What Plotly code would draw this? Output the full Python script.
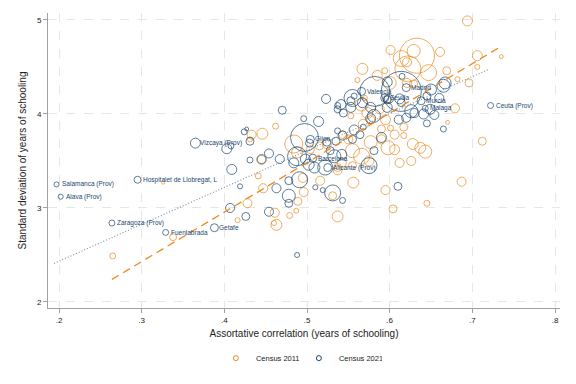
import numpy as np
import plotly.graph_objects as go

# Census 2011 (orange): assortative correlation, sd of schooling, population (10k)
x_2011 = [0.694, 0.633, 0.629, 0.601, 0.622, 0.647, 0.661, 0.567, 0.669, 0.682, 0.561,
          0.696, 0.706, 0.706, 0.735, 0.679, 0.670, 0.712, 0.687, 0.645, 0.604, 0.595,
          0.556, 0.537, 0.531, 0.516, 0.496, 0.489, 0.487, 0.479, 0.463, 0.460, 0.461,
          0.447, 0.441, 0.445, 0.446, 0.433, 0.431, 0.462, 0.428, 0.416, 0.338, 0.326,
          0.265, 0.484, 0.488, 0.495, 0.585, 0.594, 0.570, 0.566, 0.573, 0.568, 0.577,
          0.595, 0.590, 0.601, 0.606, 0.617, 0.617, 0.598, 0.606, 0.612, 0.626, 0.628,
          0.637, 0.643, 0.577, 0.566, 0.555, 0.542, 0.537, 0.555, 0.575, 0.590, 0.621,
          0.600, 0.597, 0.588, 0.621, 0.614, 0.629, 0.550, 0.543, 0.524, 0.515, 0.504,
          0.537, 0.553]
y_2011 = [4.99, 4.62, 4.67, 4.68, 4.48, 4.44, 4.66, 4.48, 4.46, 4.37, 4.36,
          4.33, 4.62, 4.50, 4.61, 4.06, 3.91, 3.71, 3.28, 3.05, 2.99, 3.19,
          3.27, 2.91, 3.13, 3.29, 3.17, 3.07, 2.97, 2.92, 2.82, 2.84, 2.95,
          3.21, 3.34, 3.51, 3.79, 3.78, 3.73, 3.87, 3.05, 2.87, 2.69, 3.27,
          2.49, 3.68, 3.59, 3.32, 4.41, 4.46, 4.17, 4.10, 4.01, 3.89, 3.94,
          3.94, 3.84, 3.85, 3.78, 3.86, 3.77, 3.64, 3.62, 3.48, 3.50, 3.68,
          3.64, 3.60, 3.70, 3.55, 3.61, 3.48, 3.43, 3.45, 3.50, 3.73, 4.33,
          4.33, 4.16, 4.05, 4.55, 4.59, 4.32, 3.73, 3.78, 3.68, 3.66, 3.62,
          3.40, 3.98]
pop_2011 = [39, 479, 66, 32, 264, 100, 32, 47, 25, 10, 10,
            25, 39, 10, 6, 32, 6, 25, 32, 14, 25, 32,
            47, 47, 25, 32, 32, 25, 10, 14, 47, 10, 32,
            32, 14, 32, 47, 32, 10, 14, 32, 10, 19, 4,
            14, 127, 47, 32, 39, 14, 10, 66, 47, 39, 25,
            39, 25, 14, 32, 25, 14, 77, 39, 32, 32, 47,
            47, 66, 66, 100, 77, 32, 25, 25, 39, 32, 32,
            66, 25, 32, 32, 100, 25, 32, 25, 32, 25, 25,
            32, 14]

# Census 2021 (navy)
x_2021 = [0.197, 0.202, 0.264, 0.329, 0.388, 0.295, 0.365, 0.722, 0.643, 0.638,
          0.566, 0.594, 0.620, 0.504, 0.507, 0.525,
          0.614, 0.582, 0.597, 0.555, 0.541, 0.553, 0.537, 0.567, 0.577, 0.597,
          0.597, 0.614, 0.626, 0.649, 0.667, 0.645, 0.615, 0.665, 0.650, 0.660,
          0.654, 0.645, 0.665, 0.641, 0.630, 0.620, 0.611, 0.612, 0.599, 0.590,
          0.581, 0.577, 0.575, 0.581, 0.610, 0.557, 0.555, 0.564, 0.568, 0.543,
          0.537, 0.535, 0.542, 0.533, 0.528, 0.524, 0.531, 0.543, 0.519, 0.510,
          0.522, 0.509, 0.502, 0.498, 0.491, 0.484, 0.488, 0.497, 0.503, 0.514,
          0.496, 0.470, 0.523, 0.537, 0.544, 0.553, 0.557, 0.478, 0.478, 0.478,
          0.463, 0.454, 0.426, 0.407, 0.419, 0.409, 0.431, 0.445, 0.454, 0.467,
          0.403, 0.408, 0.424, 0.427, 0.431, 0.488]
y_2021 = [3.25, 3.12, 2.84, 2.74, 2.79, 3.30, 3.69, 4.09, 4.06, 4.14,
          4.24, 4.17, 4.28, 3.73, 3.53, 3.43,
          4.24, 4.24, 4.34, 4.17, 4.10, 4.07, 4.05, 4.12, 4.07, 4.15,
          4.07, 4.12, 4.03, 4.05, 4.33, 4.19, 4.40, 4.30, 4.26, 4.17,
          3.99, 3.90, 3.84, 4.00, 4.01, 3.96, 3.94, 4.16, 4.16, 3.75,
          3.98, 3.95, 3.45, 3.61, 3.23, 3.83, 3.73, 3.78, 3.86, 3.77,
          3.82, 3.71, 3.57, 3.55, 3.61, 3.70, 3.16, 3.08, 3.19, 3.22,
          3.43, 3.43, 3.46, 3.52, 3.30, 3.48, 3.55, 3.75, 3.69, 3.92,
          3.95, 4.04, 4.16, 4.09, 4.01, 4.14, 4.19, 3.13, 3.05, 3.29,
          3.21, 2.96, 2.91, 3.00, 3.23, 3.41, 3.51, 3.52, 3.58, 3.52,
          3.63, 3.66, 3.81, 3.84, 3.71, 2.50]
pop_2021 = [10, 10, 14, 14, 25, 19, 39, 14, 14, 25,
            25, 25, 25, 25, 25, 25,
            625, 352, 39, 113, 39, 39, 19, 39, 39, 25,
            39, 25, 66, 39, 56, 25, 14, 66, 47, 32,
            32, 19, 14, 39, 32, 32, 32, 39, 32, 39,
            66, 39, 100, 25, 25, 39, 25, 25, 14, 32,
            14, 25, 39, 66, 25, 25, 100, 14, 10, 10,
            88, 47, 47, 39, 100, 39, 141, 306, 25, 39,
            14, 25, 32, 14, 25, 25, 14, 66, 25, 25,
            32, 32, 25, 32, 10, 39, 14, 32, 32, 32,
            39, 14, 14, 6, 25, 10]

# point labels (2021 markers, first entries of the arrays above)
label_idx = list(range(16))
labels = ["Salamanca (Prov)", "Alava (Prov)", "Zaragoza (Prov)", "Fuenlabrada", "Getafe",
          "Hospitalet de Llobregat, L", "Vizcaya (Prov)", "Ceuta (Prov)", "Malaga", "Murcia",
          "Valencia", "Sevilla", "Madrid", "Gijon", "Barcelona", "Alicante (Prov)"]

# linear fits (endpoints)
fit_x_2011 = [0.264, 0.735]
fit_y_2011 = [2.24, 4.72]
fit_x_2021 = [0.194, 0.721]
fit_y_2021 = [2.41, 4.48]

ticks_x = [0.2, 0.3, 0.4, 0.5, 0.6, 0.7, 0.8]
ticks_x_text = [".2", ".3", ".4", ".5", ".6", ".7", ".8"]
ticks_y = [2, 3, 4, 5]

ORANGE = "#EA8A1F"
NAVY = "#1A476F"


def diam(pop):
    return 1.6 * np.sqrt(np.array(pop, dtype=float))


fig = go.Figure()

fig.add_trace(go.Scatter(
    x=x_2011, y=y_2011, mode="markers", showlegend=False,
    marker=dict(symbol="circle-open", size=diam(pop_2011), color=ORANGE,
                line=dict(width=1, color=ORANGE)),
))
fig.add_trace(go.Scatter(
    x=x_2021, y=y_2021, mode="markers", showlegend=False,
    marker=dict(symbol="circle-open", size=diam(pop_2021), color=NAVY,
                line=dict(width=1, color=NAVY)),
))

fig.add_trace(go.Scatter(x=fit_x_2011, y=fit_y_2011, mode="lines", showlegend=False,
                         line=dict(color=ORANGE, width=1.3, dash="8px,5px")))
fig.add_trace(go.Scatter(x=fit_x_2021, y=fit_y_2021, mode="lines", showlegend=False,
                         line=dict(color="#7F93AB", width=1.2, dash="1px,2px")))

# legend entries
fig.add_trace(go.Scatter(x=[None], y=[None], mode="markers", name="Census 2011",
                         marker=dict(symbol="circle-open", size=5, color=ORANGE,
                                     line=dict(width=1, color=ORANGE))))
fig.add_trace(go.Scatter(x=[None], y=[None], mode="markers", name="Census 2021",
                         marker=dict(symbol="circle-open", size=5, color=NAVY,
                                     line=dict(width=1, color=NAVY))))

for i, lab in zip(label_idx, labels):
    fig.add_annotation(x=x_2021[i], y=y_2021[i], text=lab, showarrow=False,
                       xanchor="left", yanchor="middle", xshift=3,
                       font=dict(size=6.5, color=NAVY, family="Liberation Sans, Arial"))

grid = dict(showgrid=True, gridcolor="#E6E6E6", gridwidth=1, griddash="dash",
            showline=True, linecolor="#A0A0A0", linewidth=1, ticks="outside",
            ticklen=4, tickcolor="#A0A0A0", zeroline=False, automargin=False,
            tickfont=dict(size=8, color="#222222"))

fig.update_xaxes(range=[0.1867, 0.806], tickvals=ticks_x, ticktext=ticks_x_text,
                 title=dict(text="Assortative correlation (years of schooling)",
                            font=dict(size=10, color="#222222"), standoff=6), **grid)
fig.update_yaxes(range=[1.936, 5.074], tickvals=ticks_y,
                 title=dict(text="Standard deviation of years of schooling",
                            font=dict(size=10, color="#222222"), standoff=8), **grid)

# the page body adds an 8px offset, so margins are shifted to compensate
fig.update_layout(
    width=576, height=384,
    margin=dict(l=40, r=24, t=5, b=84, autoexpand=False),
    paper_bgcolor="white", plot_bgcolor="white",
    font=dict(family="Liberation Sans, Arial", color="#222222"),
    legend=dict(orientation="h", x=0.49, xanchor="center", y=-0.17, yanchor="middle",
                font=dict(size=7.5), itemwidth=30, entrywidth=38),
)

fig.write_html("out.html")
